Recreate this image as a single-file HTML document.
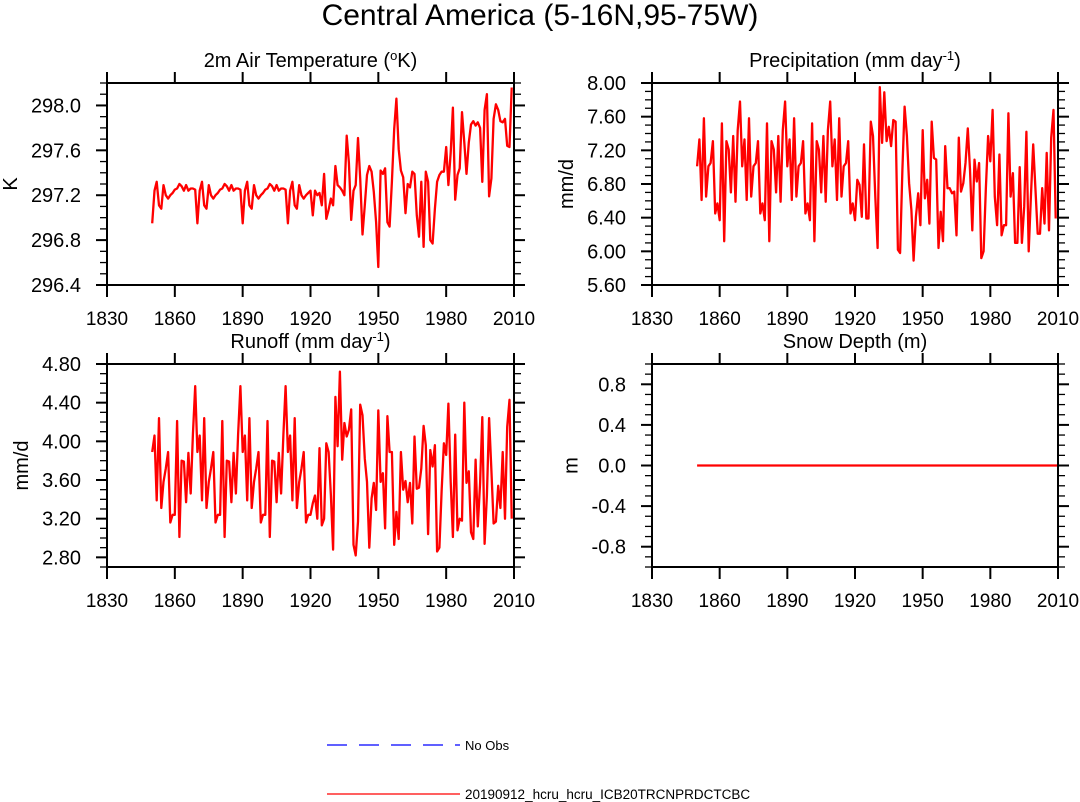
<!DOCTYPE html>
<html><head><meta charset="utf-8"><style>
body{margin:0;background:#fff;}
svg{display:block;font-family:"Liberation Sans",sans-serif;}
</style></head><body>
<svg id="chart" width="1080" height="802" viewBox="0 0 1080 802" xmlns="http://www.w3.org/2000/svg">
<text x="540" y="25" font-size="30" text-anchor="middle">Central America (5-16N,95-75W)</text>
<g id="panels"></g>
<g>
<line x1="327" y1="745" x2="460" y2="745" stroke="#0000ff" stroke-width="1.2" stroke-dasharray="20,12"/>
<text x="465" y="750" font-size="13">No Obs</text>
<line x1="327" y1="794" x2="460" y2="794" stroke="#ff0000" stroke-width="1.2"/>
<text x="465" y="799" font-size="13.5">20190912_hcru_hcru_ICB20TRCNPRDCTCBC</text>
</g>
</svg>
<script>
const xTicks = [1830,1860,1890,1920,1950,1980,2010];
const startYear = 1850;
const tempValues = [296.95,297.24,297.32,297.11,297.08,297.29,297.2,297.17,297.2,297.22,297.25,297.26,297.30,297.28,297.24,297.29,297.24,297.26,297.26,297.25,
296.95,297.24,297.32,297.11,297.08,297.29,297.2,297.17,297.2,297.22,297.25,297.26,297.30,297.28,297.24,297.29,297.24,297.26,297.26,297.25,
296.95,297.24,297.32,297.11,297.08,297.29,297.2,297.17,297.2,297.22,297.25,297.26,297.30,297.28,297.24,297.29,297.24,297.26,297.26,297.25,
296.95,297.24,297.32,297.11,297.08,297.29,297.2,297.17,297.2,297.22,
297.24,297.02,297.24,297.2,297.22,297.11,297.39,296.99,297.07,297.17,
297.11,297.46,297.29,297.27,297.24,297.2,297.73,297.49,296.98,297.24,
297.29,297.71,297.35,296.85,297.11,297.38,297.46,297.41,297.23,296.96,
296.56,297.42,297.39,297.44,296.96,296.92,297.32,297.79,298.06,297.61,
297.42,297.36,297.04,297.30,297.27,297.41,297.39,297.02,296.83,297.32,
296.74,297.41,297.32,296.8,296.77,297.08,297.32,297.38,297.41,297.41,
297.63,297.29,297.58,297.98,297.16,297.38,297.44,297.94,297.67,297.39,
297.67,297.83,297.86,297.82,297.85,297.80,297.32,297.96,298.1,297.19,
297.35,297.88,298.01,297.96,297.86,297.85,297.88,297.64,297.63,298.16];
const precipValues = [7.01,7.33,6.61,7.58,6.65,7.01,7.05,7.31,6.45,6.57,6.37,7.52,6.12,7.31,7.21,6.70,7.37,6.59,7.44,7.78,
7.01,7.33,6.61,7.58,6.65,7.01,7.05,7.31,6.45,6.57,6.37,7.52,6.12,7.31,7.21,6.70,7.37,6.59,7.44,7.78,
7.01,7.33,6.61,7.58,6.65,7.01,7.05,7.31,6.45,6.57,6.37,7.52,6.12,7.31,7.21,6.70,7.37,6.59,7.44,7.78,
7.01,7.33,6.61,7.58,6.65,7.01,7.05,7.31,6.45,6.57,
6.37,6.85,6.79,6.41,7.27,6.39,6.39,7.54,7.37,6.65,
6.04,7.95,7.29,7.89,7.31,7.48,7.25,7.56,7.54,6.02,
5.98,6.97,7.72,7.37,6.81,6.49,5.89,6.41,6.69,6.31,
7.44,6.63,6.85,6.33,7.54,7.11,7.09,6.04,6.47,6.12,
7.25,6.75,6.75,6.69,6.71,6.19,7.35,6.71,6.81,7.05,
7.46,6.97,6.25,7.09,6.83,7.05,5.92,6.0,6.73,7.37,
7.07,7.68,6.65,6.31,7.15,6.19,6.31,6.31,7.64,6.65,
6.93,6.10,6.10,7.0,6.10,6.53,7.42,6.0,6.65,7.27,
6.75,6.21,6.21,6.75,6.33,7.17,6.25,7.35,7.68,6.39];
const runoffValues = [3.89,4.06,3.39,4.24,3.31,3.58,3.72,3.89,3.16,3.24,3.24,4.21,3.01,3.80,3.79,3.37,3.88,3.46,4.07,4.57,
3.89,4.06,3.39,4.24,3.31,3.58,3.72,3.89,3.16,3.24,3.24,4.21,3.01,3.80,3.79,3.37,3.88,3.46,4.07,4.57,
3.89,4.06,3.39,4.24,3.31,3.58,3.72,3.89,3.16,3.24,3.24,4.21,3.01,3.80,3.79,3.37,3.88,3.46,4.07,4.57,
3.89,4.06,3.39,4.24,3.31,3.58,3.72,3.89,3.16,3.24,
3.24,3.36,3.44,3.20,3.93,3.13,3.20,3.98,3.89,3.44,
2.88,4.46,3.95,4.72,3.81,4.19,4.05,4.12,4.33,2.93,
2.82,3.17,4.38,4.27,3.82,3.58,2.90,3.41,3.57,3.29,
4.32,3.58,3.67,3.10,4.26,3.89,3.89,2.93,3.27,2.99,
3.89,3.50,3.59,3.37,3.57,3.15,4.05,3.51,3.52,3.72,
4.16,3.96,3.04,3.91,3.74,3.96,2.86,2.90,3.48,3.98,
3.86,4.39,3.58,3.01,4.07,3.08,3.20,3.18,4.40,3.57,
3.69,3.06,2.99,3.81,3.12,3.57,4.25,2.94,3.44,4.24,
3.70,3.15,3.17,3.54,3.31,3.89,3.20,4.15,4.43,3.20];
const snowValues = [0,0];
const snowYears = [1850,2010];
const tempTicks = ["296.4","296.8","297.2","297.6","298.0"];
const precipTicks = ["5.60","6.00","6.40","6.80","7.20","7.60","8.00"];
const runoffTicks = ["2.80","3.20","3.60","4.00","4.40","4.80"];
const snowTicks = ["-0.8","-0.4","0.0","0.4","0.8"];

const NS="http://www.w3.org/2000/svg";
const root=document.getElementById('panels');
function mk(tag,attrs,parent){const e=document.createElementNS(NS,tag);for(const k in attrs)e.setAttribute(k,attrs[k]);parent.appendChild(e);return e;}

function panel(key,title,ylab,L,T,W,H,ymin,ymax,ticks,minorStep,vals,years){
  const g=mk('g',{},root);
  
  
  const xs=v=>L+(v-1830)/180*W;
  const ys=v=>T+H-(v-ymin)/(ymax-ymin)*H;
  const tt=mk('text',{x:L+W/2,y:T-16,'font-size':20,'text-anchor':'middle'},g);
  tt.innerHTML=title;
  
  
  xTicks.forEach(t=>{
    const x=xs(t);
    mk('line',{x1:x,y1:T,x2:x,y2:T-11,stroke:'#000','stroke-width':2},g);
    mk('line',{x1:x,y1:T+H,x2:x,y2:T+H+12,stroke:'#000','stroke-width':2},g);
    const lb=mk('text',{x:x,y:T+H+40,'font-size':19,'text-anchor':'middle'},g);
    lb.textContent=t;
    
    
  });
  for(let v=ymin;v<=ymax+1e-6;v+=minorStep){
    const y=ys(v);
    mk('line',{x1:L,y1:y,x2:L-7,y2:y,stroke:'#000','stroke-width':1.3},g);
    mk('line',{x1:L+W,y1:y,x2:L+W+7,y2:y,stroke:'#000','stroke-width':1.3},g);
  }
  let maxW=0;
  ticks.forEach(s=>{
    const y=ys(parseFloat(s));
    mk('line',{x1:L,y1:y,x2:L-11,y2:y,stroke:'#000','stroke-width':2},g);
    mk('line',{x1:L+W,y1:y,x2:L+W+11,y2:y,stroke:'#000','stroke-width':2},g);
    const lb=mk('text',{x:L-26,y:y+7,'font-size':20,'text-anchor':'end'},g);
    lb.textContent=s;
    
    
    maxW=Math.max(maxW,lb.getComputedTextLength());
  });
  const yx=L-26-maxW-21;
  const yl=mk('text',{x:0,y:0,'font-size':20,'text-anchor':'middle',transform:`translate(${yx+7},${T+H/2}) rotate(-90)`},g);
  yl.textContent=ylab;
  
  
  const pts=vals.map((v,i)=>xs(years?years[i]:startYear+i).toFixed(1)+','+ys(v).toFixed(1)).join(' ');
  const pl=mk('polyline',{points:pts,fill:'none',stroke:'#ff0000','stroke-width':2.3,'stroke-linejoin':'round'},g);
  
  
  const fr=mk('rect',{x:L,y:T,width:W,height:H,fill:'none',stroke:'#000','stroke-width':2},g);
  
  
}
panel('temperature','2m Air Temperature (<tspan baseline-shift="super" font-size="13">o</tspan>K)','K',107,83,407,202,296.4,298.2,tempTicks,0.1,tempValues);
panel('precipitation','Precipitation (mm day<tspan baseline-shift="super" font-size="13">-1</tspan>)','mm/d',652,83,406,202,5.6,8.0,precipTicks,0.1,precipValues);
panel('runoff','Runoff (mm day<tspan baseline-shift="super" font-size="13">-1</tspan>)','mm/d',107,364,407,203,2.7,4.8,runoffTicks,0.1,runoffValues);
panel('snow-depth','Snow Depth (m)','m',652,364,406,203,-1.0,1.0,snowTicks,0.1,snowValues,snowYears);
</script>
</body></html>
